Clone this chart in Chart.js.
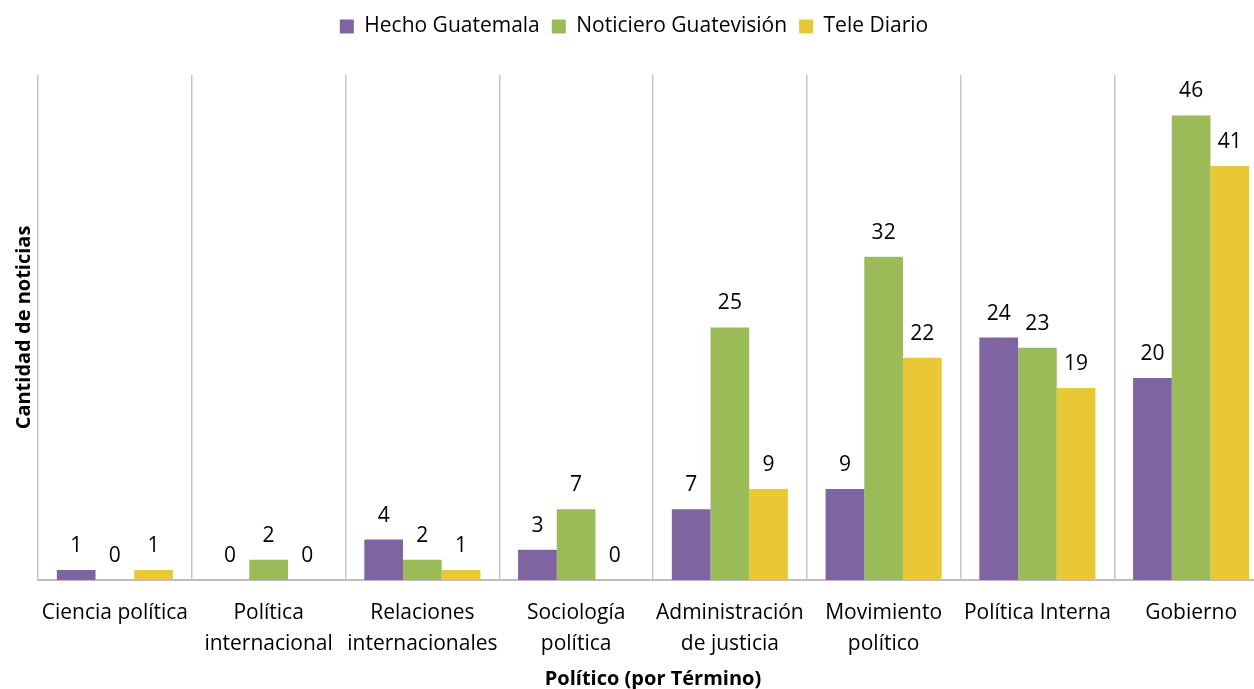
<!DOCTYPE html>
<html>
<head>
<meta charset="utf-8">
<script src="https://cdn.jsdelivr.net/npm/chart.js@4"></script>
<style>
  html, body { margin: 0; padding: 0; background: #fff; overflow: hidden; }
  #wrap { width: 1270px; height: 689px; }
</style>
</head>
<body>
<div id="wrap"><canvas id="chart" width="1270" height="689"></canvas></div>
<script>
const categories = [
  'Ciencia política',
  ['Política', 'internacional'],
  ['Relaciones', 'internacionales'],
  ['Sociología', 'política'],
  ['Administración', 'de justicia'],
  ['Movimiento', 'político'],
  'Política Interna',
  'Gobierno'
];
const hechoGuatemala = [1, 0, 4, 3, 7, 9, 24, 20];
const noticieroGuatevision = [0, 2, 2, 7, 25, 32, 23, 46];
const teleDiario = [1, 0, 1, 0, 9, 22, 19, 41];

const FONT = '"Open Sans", sans-serif';

// numbers above each bar
const valueLabels = {
  id: 'valueLabels',
  afterDatasetsDraw(chart) {
    const ctx = chart.ctx;
    ctx.save();
    ctx.font = '21px ' + FONT;
    ctx.fillStyle = '#000';
    ctx.textAlign = 'center';
    ctx.textBaseline = 'middle';
    chart.data.datasets.forEach((ds, i) => {
      chart.getDatasetMeta(i).data.forEach((bar, j) => {
        ctx.fillText(ds.data[j], bar.x, bar.y - 24);
      });
    });
    ctx.restore();
  }
};

// fixed legend block height so the plot starts where it does in the picture
const legendHeight = {
  id: 'legendHeight',
  beforeInit(chart) {
    const fit = chart.legend.fit;
    chart.legend.fit = function () {
      fit.bind(chart.legend)();
      this.height = 71;
    };
  }
};

new Chart(document.getElementById('chart'), {
  type: 'bar',
  data: {
    labels: categories,
    datasets: [
      { label: 'Hecho Guatemala', data: hechoGuatemala, backgroundColor: '#8064A2' },
      { label: 'Noticiero Guatevisión', data: noticieroGuatevision, backgroundColor: '#9BBB59' },
      { label: 'Tele Diario', data: teleDiario, backgroundColor: '#EAC835' }
    ]
  },
  options: {
    responsive: false,
    animation: false,
    layout: { padding: { top: 4, right: 2, bottom: 0, left: 0 } },
    datasets: {
      bar: { categoryPercentage: 0.755, barPercentage: 1.0 }
    },
    plugins: {
      tooltip: { enabled: false },
      legend: {
        position: 'top',
        labels: {
          boxWidth: 14,
          boxHeight: 14,
          padding: 12,
          color: '#000',
          font: { family: FONT, size: 21 }
        }
      }
    },
    scales: {
      x: {
        afterFit(scale) { scale.height = 109; },
        grid: { display: true, offset: true, drawTicks: false, color: '#C6C6C6', lineWidth: 1.5 },
        border: { display: true, color: '#BDBDBD', width: 2 },
        ticks: {
          color: '#000',
          padding: 18,
          maxRotation: 0,
          autoSkip: false,
          font: { family: FONT, size: 21, lineHeight: 1.476 }
        },
        title: {
          display: true,
          text: 'Político (por Término)',
          color: '#000',
          padding: { top: 0, bottom: -2 },
          font: { family: FONT, size: 20, weight: 'bold' }
        }
      },
      y: {
        min: 0,
        max: 50,
        grid: { display: false },
        border: { display: false },
        ticks: { display: false },
        title: {
          display: true,
          text: 'Cantidad de noticias',
          color: '#000',
          padding: { top: 12, bottom: -6 },
          font: { family: FONT, size: 20, weight: 'bold' }
        }
      }
    }
  },
  plugins: [valueLabels, legendHeight]
});
</script>
</body>
</html>
